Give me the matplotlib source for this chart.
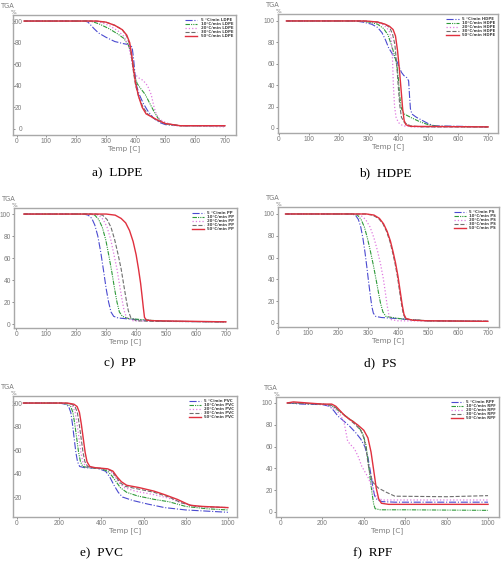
import matplotlib
matplotlib.use("Agg")
import matplotlib.pyplot as plt

# heating rates and line styles shared by all panels
rates = ["5 °C/min", "10°C/min", "20°C/min", "30°C/min", "50°C/min"]
colors = ["#4a4ad0", "#2f9a3a", "#e07ae0", "#6e6e6e", "#e0303e"]
styles = ["-.", (0, (4, 1, 1, 1, 1, 1)), ":", "--", "-"]
widths = [0.8, 0.8, 0.9, 0.8, 1.0]

# (temperature, weight %), one list per heating rate
ldpe = [
    [(25, 100), (230, 100), (240, 99), (250, 96), (260, 93), (275, 89), (300, 85), (330, 81),
     (360, 79), (380, 78), (388, 76), (393, 65), (398, 50), (403, 40), (412, 32), (425, 24),
     (440, 17), (460, 10), (480, 6), (500, 4), (550, 3), (700, 3)],
    [(25, 100), (245, 100), (260, 99), (280, 97), (310, 93), (340, 88), (360, 84), (375, 78),
     (385, 70), (392, 58), (398, 48), (405, 42), (418, 37), (432, 32), (445, 25), (460, 17),
     (475, 10), (490, 6), (510, 4), (550, 3), (700, 3)],
    [(25, 100), (255, 100), (280, 99), (310, 96), (340, 91), (360, 86), (375, 78), (385, 66),
     (392, 55), (400, 50), (412, 47), (425, 45), (440, 40), (452, 32), (462, 20), (470, 13),
     (480, 9), (500, 6), (530, 3), (700, 2)],
    [(25, 100), (265, 100), (300, 99), (330, 96), (355, 92), (370, 86), (380, 78), (387, 65),
     (393, 52), (400, 40), (410, 30), (425, 20), (440, 14), (460, 10), (480, 7), (500, 5),
     (550, 3), (700, 3)],
    [(25, 100), (270, 100), (300, 99), (330, 96), (355, 92), (370, 87), (380, 80), (387, 68),
     (393, 55), (400, 42), (410, 30), (422, 20), (435, 14), (455, 11), (475, 8), (500, 5),
     (550, 3), (700, 3)],
]

hdpe = [
    [(25, 100), (255, 100), (280, 99), (310, 97), (330, 94), (345, 89), (357, 82), (367, 75),
     (380, 69), (395, 62), (410, 52), (418, 49), (428, 47), (434, 44), (437, 30), (440, 18),
     (445, 13), (460, 10), (480, 7), (500, 4), (520, 2), (700, 1)],
    [(25, 100), (265, 100), (300, 99), (330, 97), (350, 93), (365, 87), (377, 77), (388, 67),
     (395, 58), (400, 45), (404, 30), (410, 18), (420, 13), (440, 10), (470, 6), (500, 3),
     (530, 1.5), (700, 1)],
    [(25, 100), (275, 100), (320, 99), (345, 97), (360, 94), (370, 90), (376, 83), (380, 65),
     (383, 40), (387, 20), (392, 10), (400, 5), (415, 2), (450, 1), (700, 1)],
    [(25, 100), (280, 100), (330, 99), (355, 97), (370, 94), (380, 88), (388, 78), (394, 60),
     (399, 40), (404, 22), (410, 10), (420, 5), (440, 2), (480, 1), (700, 1)],
    [(25, 100), (290, 100), (330, 99), (355, 97), (370, 95), (382, 92), (390, 86), (397, 72),
     (403, 55), (409, 35), (414, 18), (419, 7), (425, 3), (440, 1.5), (700, 1)],
]

pp = [
    [(25, 100), (225, 100), (240, 99), (252, 96), (262, 90), (272, 80), (282, 65), (292, 47),
     (300, 32), (308, 20), (316, 11), (325, 7), (340, 5.5), (380, 4.5), (430, 3.5), (500, 2.5),
     (700, 2)],
    [(25, 100), (245, 100), (262, 99), (275, 95), (287, 88), (299, 76), (309, 62), (319, 47),
     (328, 32), (336, 20), (344, 11), (354, 7), (375, 5), (420, 4), (500, 2.5), (700, 2)],
    [(25, 100), (255, 100), (275, 99), (290, 95), (303, 88), (315, 77), (326, 63), (336, 50),
     (345, 35), (353, 22), (360, 12), (368, 6), (390, 3), (450, 2.5), (700, 2)],
    [(25, 100), (265, 100), (288, 99), (303, 95), (316, 88), (328, 77), (340, 63), (350, 50),
     (359, 35), (367, 22), (374, 12), (382, 6), (400, 3), (450, 2.5), (700, 2)],
    [(25, 100), (300, 100), (330, 99), (350, 96), (365, 92), (378, 85), (390, 75), (400, 63),
     (408, 50), (415, 37), (420, 25), (424, 15), (428, 6), (435, 3.5), (460, 3), (700, 2)],
]

ps = [
    [(25, 100), (245, 100), (258, 99), (268, 95), (276, 88), (283, 78), (290, 65), (296, 52),
     (302, 38), (308, 25), (313, 15), (318, 9), (326, 6), (345, 5), (400, 4), (440, 3),
     (500, 2), (700, 1.5)],
    [(25, 100), (250, 100), (265, 99), (277, 95), (288, 88), (298, 78), (308, 66), (318, 53),
     (327, 40), (335, 28), (342, 18), (350, 10), (360, 6), (380, 5), (420, 3.5), (500, 2),
     (700, 1.5)],
    [(25, 100), (255, 100), (275, 99), (292, 95), (307, 88), (320, 78), (332, 66), (342, 54),
     (351, 41), (358, 28), (364, 16), (370, 7), (378, 3), (400, 2), (700, 1.5)],
    [(25, 100), (290, 100), (315, 99), (335, 96), (350, 91), (362, 84), (373, 75), (382, 65),
     (390, 55), (398, 43), (405, 30), (412, 17), (418, 8), (425, 4), (450, 2.5), (500, 2),
     (700, 1.5)],
    [(25, 100), (295, 100), (320, 99), (338, 96), (352, 91), (364, 84), (375, 75), (384, 65),
     (392, 55), (400, 43), (407, 30), (414, 17), (420, 8), (427, 4), (450, 2.5), (500, 2),
     (700, 1.5)],
]

pvc = [
    [(30, 100), (200, 100), (230, 99), (245, 97), (255, 92), (263, 82), (271, 70), (279, 58),
     (287, 50), (297, 46), (320, 45), (380, 44.5), (420, 42), (440, 37), (460, 30), (480, 24),
     (500, 20), (550, 17), (620, 14), (700, 11), (800, 9), (900, 8), (1000, 7)],
    [(30, 100), (210, 100), (240, 99), (255, 97), (265, 92), (274, 82), (283, 70), (292, 58),
     (301, 50), (312, 46), (340, 45), (400, 44), (430, 42), (450, 38), (470, 33), (490, 28),
     (520, 24), (570, 21), (650, 18), (720, 16), (800, 12), (900, 10), (1000, 9)],
    [(30, 100), (220, 100), (250, 99), (265, 97), (276, 92), (285, 82), (294, 70), (303, 58),
     (312, 50), (325, 46), (350, 45), (420, 44), (445, 42), (465, 37), (485, 32), (510, 28),
     (560, 25), (650, 22), (720, 19), (780, 15), (850, 12), (1000, 11)],
    [(30, 100), (230, 100), (260, 99), (275, 97), (286, 92), (295, 82), (304, 70), (313, 58),
     (322, 50), (335, 46), (360, 45), (425, 44), (450, 42), (470, 37), (490, 32), (515, 29),
     (570, 27), (650, 24), (720, 20), (780, 15), (850, 12), (1000, 11)],
    [(30, 100), (240, 100), (270, 99), (285, 97), (296, 92), (305, 82), (314, 70), (323, 58),
     (332, 50), (345, 46), (370, 45), (430, 44), (455, 42), (475, 37), (495, 33), (520, 30),
     (580, 28), (650, 25), (700, 22), (760, 18), (820, 13), (880, 12), (1000, 11)],
]

rpf = [
    [(30, 100), (100, 99), (200, 98.5), (235, 97), (255, 93), (275, 88), (300, 84), (330, 79),
     (360, 73), (385, 67), (405, 60), (420, 50), (432, 37), (442, 25), (452, 15), (465, 11),
     (490, 9.5), (550, 9), (1000, 9)],
    [(30, 100), (200, 99), (240, 98), (265, 95), (290, 91), (320, 87), (350, 83), (375, 78),
     (395, 72), (410, 62), (420, 48), (430, 32), (440, 17), (448, 7), (455, 3), (480, 2),
     (600, 2), (1000, 1.5)],
    [(30, 100), (200, 99), (240, 97), (265, 94), (290, 88), (305, 82), (315, 72), (322, 65),
     (335, 62), (355, 58), (375, 50), (390, 42), (405, 37), (420, 32), (435, 25), (450, 17),
     (465, 13), (490, 11), (1000, 11)],
    [(30, 100), (200, 99), (245, 98), (270, 95), (300, 90), (330, 85), (360, 80), (385, 75),
     (400, 68), (412, 57), (420, 45), (430, 35), (445, 27), (470, 22), (510, 18), (550, 14.5),
     (800, 14), (1000, 15)],
    [(30, 100), (60, 101), (200, 99), (245, 99), (265, 97), (285, 93), (310, 88), (340, 84),
     (370, 80), (400, 75), (420, 68), (435, 55), (448, 38), (460, 22), (472, 12), (485, 8),
     (520, 7), (1000, 7)],
]

panels = [
    # name, caption, curves, frame px (l, t, r, b), xlim, ylim, xticks, yticks, caption px, y labels inside
    ("LDPE", "a)  LDPE", ldpe, (13, 15, 236, 135), (-12, 737), (-5.6, 105.6),
     range(0, 701, 100), range(0, 101, 20), (117, 173), True),
    ("HDPE", "b)  HDPE", hdpe, (278, 14, 498, 133), (-3, 733), (-4.7, 106.5),
     range(0, 701, 100), range(0, 101, 20), (385, 173), False),
    ("PP", "c)  PP", pp, (14, 208, 237, 328), (-8, 737), (-3.6, 105.5),
     range(0, 701, 100), range(0, 101, 20), (120, 363), False),
    ("PS", "d)  PS", ps, (278, 207, 499, 327), (0, 737), (-3.7, 106.4),
     range(0, 701, 100), range(0, 101, 20), (380, 363), False),
    ("PVC", "e)  PVC", pvc, (13, 396, 237, 517), (-19, 1043), (3, 106),
     range(0, 1001, 200), range(20, 101, 20), (102, 553), True),
    ("RPF", "f)  RPF", rpf, (276, 397, 499, 517), (-24, 1053), (-4.6, 105.5),
     range(0, 1001, 200), range(0, 101, 20), (373, 553), False),
]

W, H = 504, 564
fig = plt.figure(figsize=(W / 100, H / 100), dpi=100)

grey = "#7a7a7a"

for name, caption, curves, frame, xlim, ylim, xticks, yticks, cap, inside in panels:
    l, t, r, b = frame
    ax = fig.add_axes([l / W, 1 - b / H, (r - l) / W, (b - t) / H])
    for i, pts in enumerate(curves):
        temp, wt = zip(*pts)
        ax.plot(temp, wt, color=colors[i], linestyle=styles[i],
                lw=widths[i], label=f"{rates[i]} {name}")
    ax.set_xlim(*xlim)
    ax.set_ylim(*ylim)
    ax.set_xticks(list(xticks))
    ax.set_yticks(list(yticks))
    ax.tick_params(labelsize=4.8, colors=grey, length=1.5, width=0.6, pad=0.8)
    if inside:
        ax.tick_params(axis="y", direction="in", pad=-6.5)
    for lab in ax.get_xticklabels() + ax.get_yticklabels():
        lab.set_family("Liberation Sans")
    for s in ax.spines.values():
        s.set_color("#a8a8a8")
        s.set_linewidth(1.0)
    ax.set_xlabel("Temp [C]", fontsize=5.2, color=grey, labelpad=0.3)
    ax.text(-0.055, 1.075, "TGA", transform=ax.transAxes, fontsize=4.8,
            color=grey, ha="left", va="center")
    ax.text(-0.01, 1.02, "%", transform=ax.transAxes, fontsize=4.2,
            color=grey, ha="left", va="center")
    leg = ax.legend(loc="upper right", prop={"size": 2.8, "weight": "bold"},
                    frameon=False, handlelength=3.2, labelspacing=0.0,
                    handletextpad=0.8, borderaxespad=0.35)
    for txt in leg.get_texts():
        txt.set_color("#404040")
    fig.text(cap[0] / W, 1 - cap[1] / H, caption, fontsize=9.5,
             family="Liberation Serif", ha="center", va="center")

fig.savefig("out.png", dpi=100)
